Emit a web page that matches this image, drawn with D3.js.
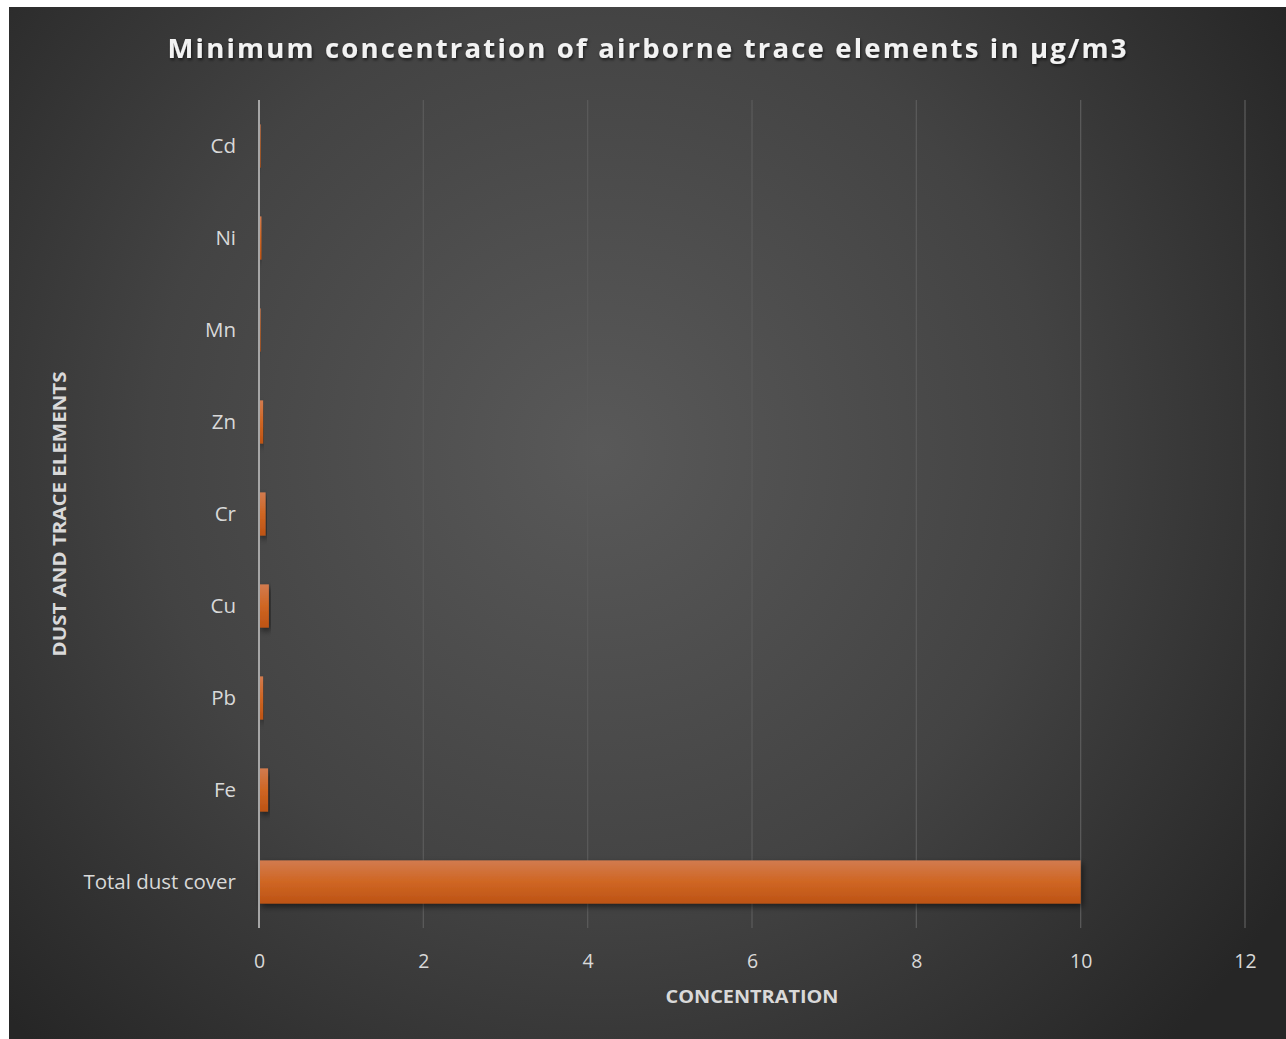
<!DOCTYPE html>
<html>
<head>
<meta charset="utf-8">
<script src="https://cdn.jsdelivr.net/npm/d3@7"></script>
<style>
  html, body { margin: 0; padding: 0; background: #ffffff; }
  svg { display: block; }
  text { font-family: "Open Sans", Lato, sans-serif; }
</style>
</head>
<body>
<svg id="chart" width="1286" height="1039"></svg>
<script>
// Minimum concentrations, µg/m3
const categories = ["Total dust cover", "Fe", "Pb", "Cu", "Cr", "Zn", "Mn", "Ni", "Cd"];
const values     = [10, 0.11, 0.05, 0.12, 0.08, 0.05, 0.02, 0.03, 0.02];
const xTicks     = [0, 2, 4, 6, 8, 10, 12];

const titleText  = "Minimum concentration of airborne trace elements in µg/m3";
const xAxisTitle = "CONCENTRATION";
const yAxisTitle = "DUST AND TRACE ELEMENTS";

const W = 1286, H = 1039;
const margin = { left: 259, right: 41, top: 100, bottom: 111 };

const svg = d3.select("#chart");
const defs = svg.append("defs");

// Background: dark radial fill
const bg = defs.append("radialGradient").attr("id", "bgGrad")
  .attr("gradientUnits", "userSpaceOnUse")
  .attr("cx", 600).attr("cy", 450).attr("r", 820);
bg.append("stop").attr("offset", "0%").attr("stop-color", "#595959");
bg.append("stop").attr("offset", "55%").attr("stop-color", "#434343");
bg.append("stop").attr("offset", "100%").attr("stop-color", "#262626");

// Bar fill: lighter top edge, deeper orange bottom
const barGrad = defs.append("linearGradient").attr("id", "barGrad")
  .attr("x1", 0).attr("y1", 0).attr("x2", 0).attr("y2", 1);
barGrad.append("stop").attr("offset", "0%").attr("stop-color", "#d27b4f");
barGrad.append("stop").attr("offset", "50%").attr("stop-color", "#cf6623");
barGrad.append("stop").attr("offset", "100%").attr("stop-color", "#bd5315");

const shadow = defs.append("filter").attr("id", "barShadow")
  .attr("x", "-5%").attr("y", "-20%").attr("width", "120%").attr("height", "160%");
shadow.append("feDropShadow").attr("dx", 2).attr("dy", 3).attr("stdDeviation", 3)
  .attr("flood-color", "#000").attr("flood-opacity", 0.55);

const textShadow = defs.append("filter").attr("id", "textShadow")
  .attr("x", "-5%").attr("y", "-30%").attr("width", "110%").attr("height", "160%");
textShadow.append("feDropShadow").attr("dx", 1).attr("dy", 2).attr("stdDeviation", 1.5)
  .attr("flood-color", "#000").attr("flood-opacity", 0.6);

svg.append("rect")
  .attr("x", 9).attr("y", 7).attr("width", W - 9).attr("height", H - 7)
  .attr("fill", "url(#bgGrad)");

const x = d3.scaleLinear().domain([0, 12]).range([margin.left, W - margin.right]);
const y = d3.scaleBand().domain(categories.slice().reverse())
  .range([margin.top, H - margin.bottom])
  .paddingInner(0.53).paddingOuter(0.265);

// Vertical gridlines
svg.append("g").selectAll("line")
  .data(xTicks.filter(d => d !== 0))
  .join("line")
  .attr("x1", d => x(d)).attr("x2", d => x(d))
  .attr("y1", margin.top).attr("y2", H - margin.bottom)
  .attr("stroke", "#5a5a5a").attr("stroke-width", 1.3);

// Bars
svg.append("g").selectAll("rect")
  .data(categories.map((c, i) => ({ c, v: values[i] })))
  .join("rect")
  .attr("x", x(0))
  .attr("y", d => y(d.c))
  .attr("width", d => x(d.v) - x(0))
  .attr("height", y.bandwidth())
  .attr("fill", "url(#barGrad)")
  .attr("filter", "url(#barShadow)");

// Category axis line
svg.append("line")
  .attr("x1", x(0)).attr("x2", x(0))
  .attr("y1", margin.top).attr("y2", H - margin.bottom)
  .attr("stroke", "#a6a6a6").attr("stroke-width", 2);

// X axis tick labels
const xAxis = d3.axisBottom(x).tickValues(xTicks).tickSize(0).tickPadding(0);
const gx = svg.append("g").attr("transform", `translate(0, ${H - margin.bottom + 40})`).call(xAxis);
gx.select(".domain").remove();
gx.selectAll("text")
  .attr("fill", "#d9d9d9").attr("font-size", 19.5).attr("dy", 0)
  .style("font-family", "'Open Sans', Lato, sans-serif");

// Y axis category labels
const yAxis = d3.axisLeft(y).tickSize(0).tickPadding(23);
const gy = svg.append("g").attr("transform", `translate(${x(0)}, 0)`).call(yAxis);
gy.select(".domain").remove();
gy.selectAll("text")
  .attr("fill", "#d9d9d9").attr("font-size", 20.5)
  .style("font-family", "'Open Sans', Lato, sans-serif");

// Title
svg.append("text")
  .attr("x", 647).attr("y", 58)
  .attr("text-anchor", "middle")
  .attr("fill", "#f2f2f2")
  .attr("font-size", 27.5).attr("font-weight", 700)
  .attr("textLength", 959).attr("lengthAdjust", "spacing")
  .attr("filter", "url(#textShadow)")
  .text(titleText);

// Axis titles
svg.append("text")
  .attr("x", (x(0) + x(12)) / 2).attr("y", 1003)
  .attr("text-anchor", "middle")
  .attr("fill", "#d9d9d9").attr("font-size", 18).attr("font-weight", 700)
  .attr("textLength", 173).attr("lengthAdjust", "spacingAndGlyphs")
  .text(xAxisTitle);

svg.append("text")
  .attr("transform", `translate(66, ${(margin.top + H - margin.bottom) / 2}) rotate(-90)`)
  .attr("text-anchor", "middle")
  .attr("fill", "#d9d9d9").attr("font-size", 18).attr("font-weight", 700)
  .attr("textLength", 285).attr("lengthAdjust", "spacingAndGlyphs")
  .text(yAxisTitle);
</script>
</body>
</html>
